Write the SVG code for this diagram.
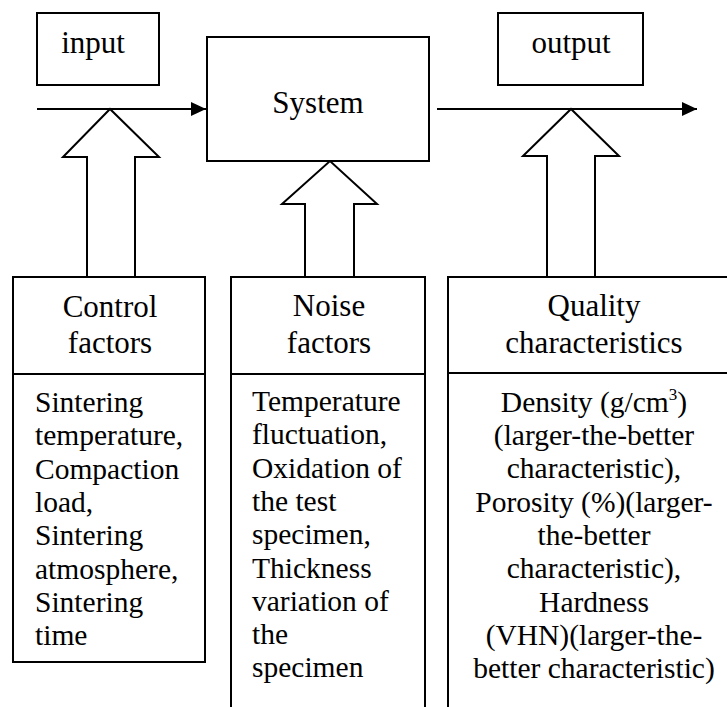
<svg xmlns="http://www.w3.org/2000/svg" width="727" height="707" viewBox="0 0 727 707" font-family="'Liberation Serif', 'Times New Roman', Times, 'DejaVu Serif', serif">
  <style>
    .box { fill: #fff; stroke: #000; stroke-width: 2; }
    .ln { fill: none; stroke: #000; stroke-width: 2; }
    .blk { fill: #fff; stroke: #000; stroke-width: 2; stroke-linejoin: miter; }
    text { font-family: 'Liberation Serif', 'Times New Roman', Times, 'DejaVu Serif', serif; fill: #000; }
    .hd { font-size: 31px; text-anchor: middle; }
    .bd { font-size: 29.5px; }
    .mid { text-anchor: middle; }
  </style>
  <defs>
    <marker id="tri" markerUnits="userSpaceOnUse" markerWidth="16" markerHeight="14" refX="15" refY="7" orient="auto">
      <path d="M0,0 L15,7 L0,14 Z" fill="#000"/>
    </marker>
  </defs>

  <!-- flow line into and out of the system, plus the three block arrows -->
  <g id="connectors">
    <line class="ln" x1="37" y1="109" x2="206" y2="109" marker-end="url(#tri)"/>
    <line class="ln" x1="437" y1="109" x2="697" y2="109" marker-end="url(#tri)"/>
    <polyline class="blk" points="87,277 87,157 63,157 110,109 159,157 135,157 135,277"/>
    <polyline class="blk" points="305,277 305,204 282,204 330,161 377,204 354,204 354,277"/>
    <polyline class="blk" points="547,277 547,156 523,156 571,109 619,156 595,156 595,277"/>
  </g>

  <g id="input">
    <rect class="box" x="37" y="13" width="122" height="72"/>
    <text class="hd" x="93" y="53">input</text>
  </g>

  <g id="system">
    <rect class="box" x="207" y="37" width="222" height="124"/>
    <text class="hd" x="318" y="113">System</text>
  </g>

  <g id="output">
    <rect class="box" x="498" y="13" width="145" height="72"/>
    <text class="hd" x="571" y="53">output</text>
  </g>

  <g id="control-factors">
    <rect class="box" x="13" y="277" width="192" height="385"/>
    <line class="ln" x1="13" y1="374" x2="205" y2="374"/>
    <text class="hd" x="110" y="317">Control</text>
    <text class="hd" x="110" y="353">factors</text>
    <text class="bd" x="35" y="412">
      <tspan x="35" dy="0">Sintering</tspan>
      <tspan x="35" dy="33.3">temperature,</tspan>
      <tspan x="35" dy="33.3">Compaction</tspan>
      <tspan x="35" dy="33.3">load,</tspan>
      <tspan x="35" dy="33.3">Sintering</tspan>
      <tspan x="35" dy="33.3">atmosphere,</tspan>
      <tspan x="35" dy="33.3">Sintering</tspan>
      <tspan x="35" dy="33.3">time</tspan>
    </text>
  </g>

  <g id="noise-factors">
    <path class="ln" d="M231,707 V277 H425 V707"/>
    <line class="ln" x1="231" y1="374" x2="425" y2="374"/>
    <text class="hd" x="329" y="316">Noise</text>
    <text class="hd" x="329" y="353">factors</text>
    <text class="bd" x="252" y="411">
      <tspan x="252" dy="0">Temperature</tspan>
      <tspan x="252" dy="33.3">fluctuation,</tspan>
      <tspan x="252" dy="33.3">Oxidation of</tspan>
      <tspan x="252" dy="33.3">the test</tspan>
      <tspan x="252" dy="33.3">specimen,</tspan>
      <tspan x="252" dy="33.3">Thickness</tspan>
      <tspan x="252" dy="33.3">variation of</tspan>
      <tspan x="252" dy="33.3">the</tspan>
      <tspan x="252" dy="33.3">specimen</tspan>
    </text>
  </g>

  <g id="quality-characteristics">
    <path class="ln" d="M448,707 V277 H727"/>
    <line class="ln" x1="448" y1="373" x2="727" y2="373"/>
    <text class="hd" x="594" y="316">Quality</text>
    <text class="hd" x="594" y="353">characteristics</text>
    <text class="bd mid" x="594" y="412">Density (g/cm<tspan font-size="17" dy="-12">3</tspan><tspan dy="12">)</tspan></text>
    <text class="bd mid" x="594" y="445">(larger-the-better</text>
    <text class="bd mid" x="594" y="478">characteristic),</text>
    <text class="bd mid" x="594" y="512">Porosity (%)(larger-</text>
    <text class="bd mid" x="594" y="545">the-better</text>
    <text class="bd mid" x="594" y="578">characteristic),</text>
    <text class="bd mid" x="594" y="612">Hardness</text>
    <text class="bd mid" x="594" y="645">(VHN)(larger-the-</text>
    <text class="bd mid" x="594" y="678">better characteristic)</text>
  </g>
</svg>
